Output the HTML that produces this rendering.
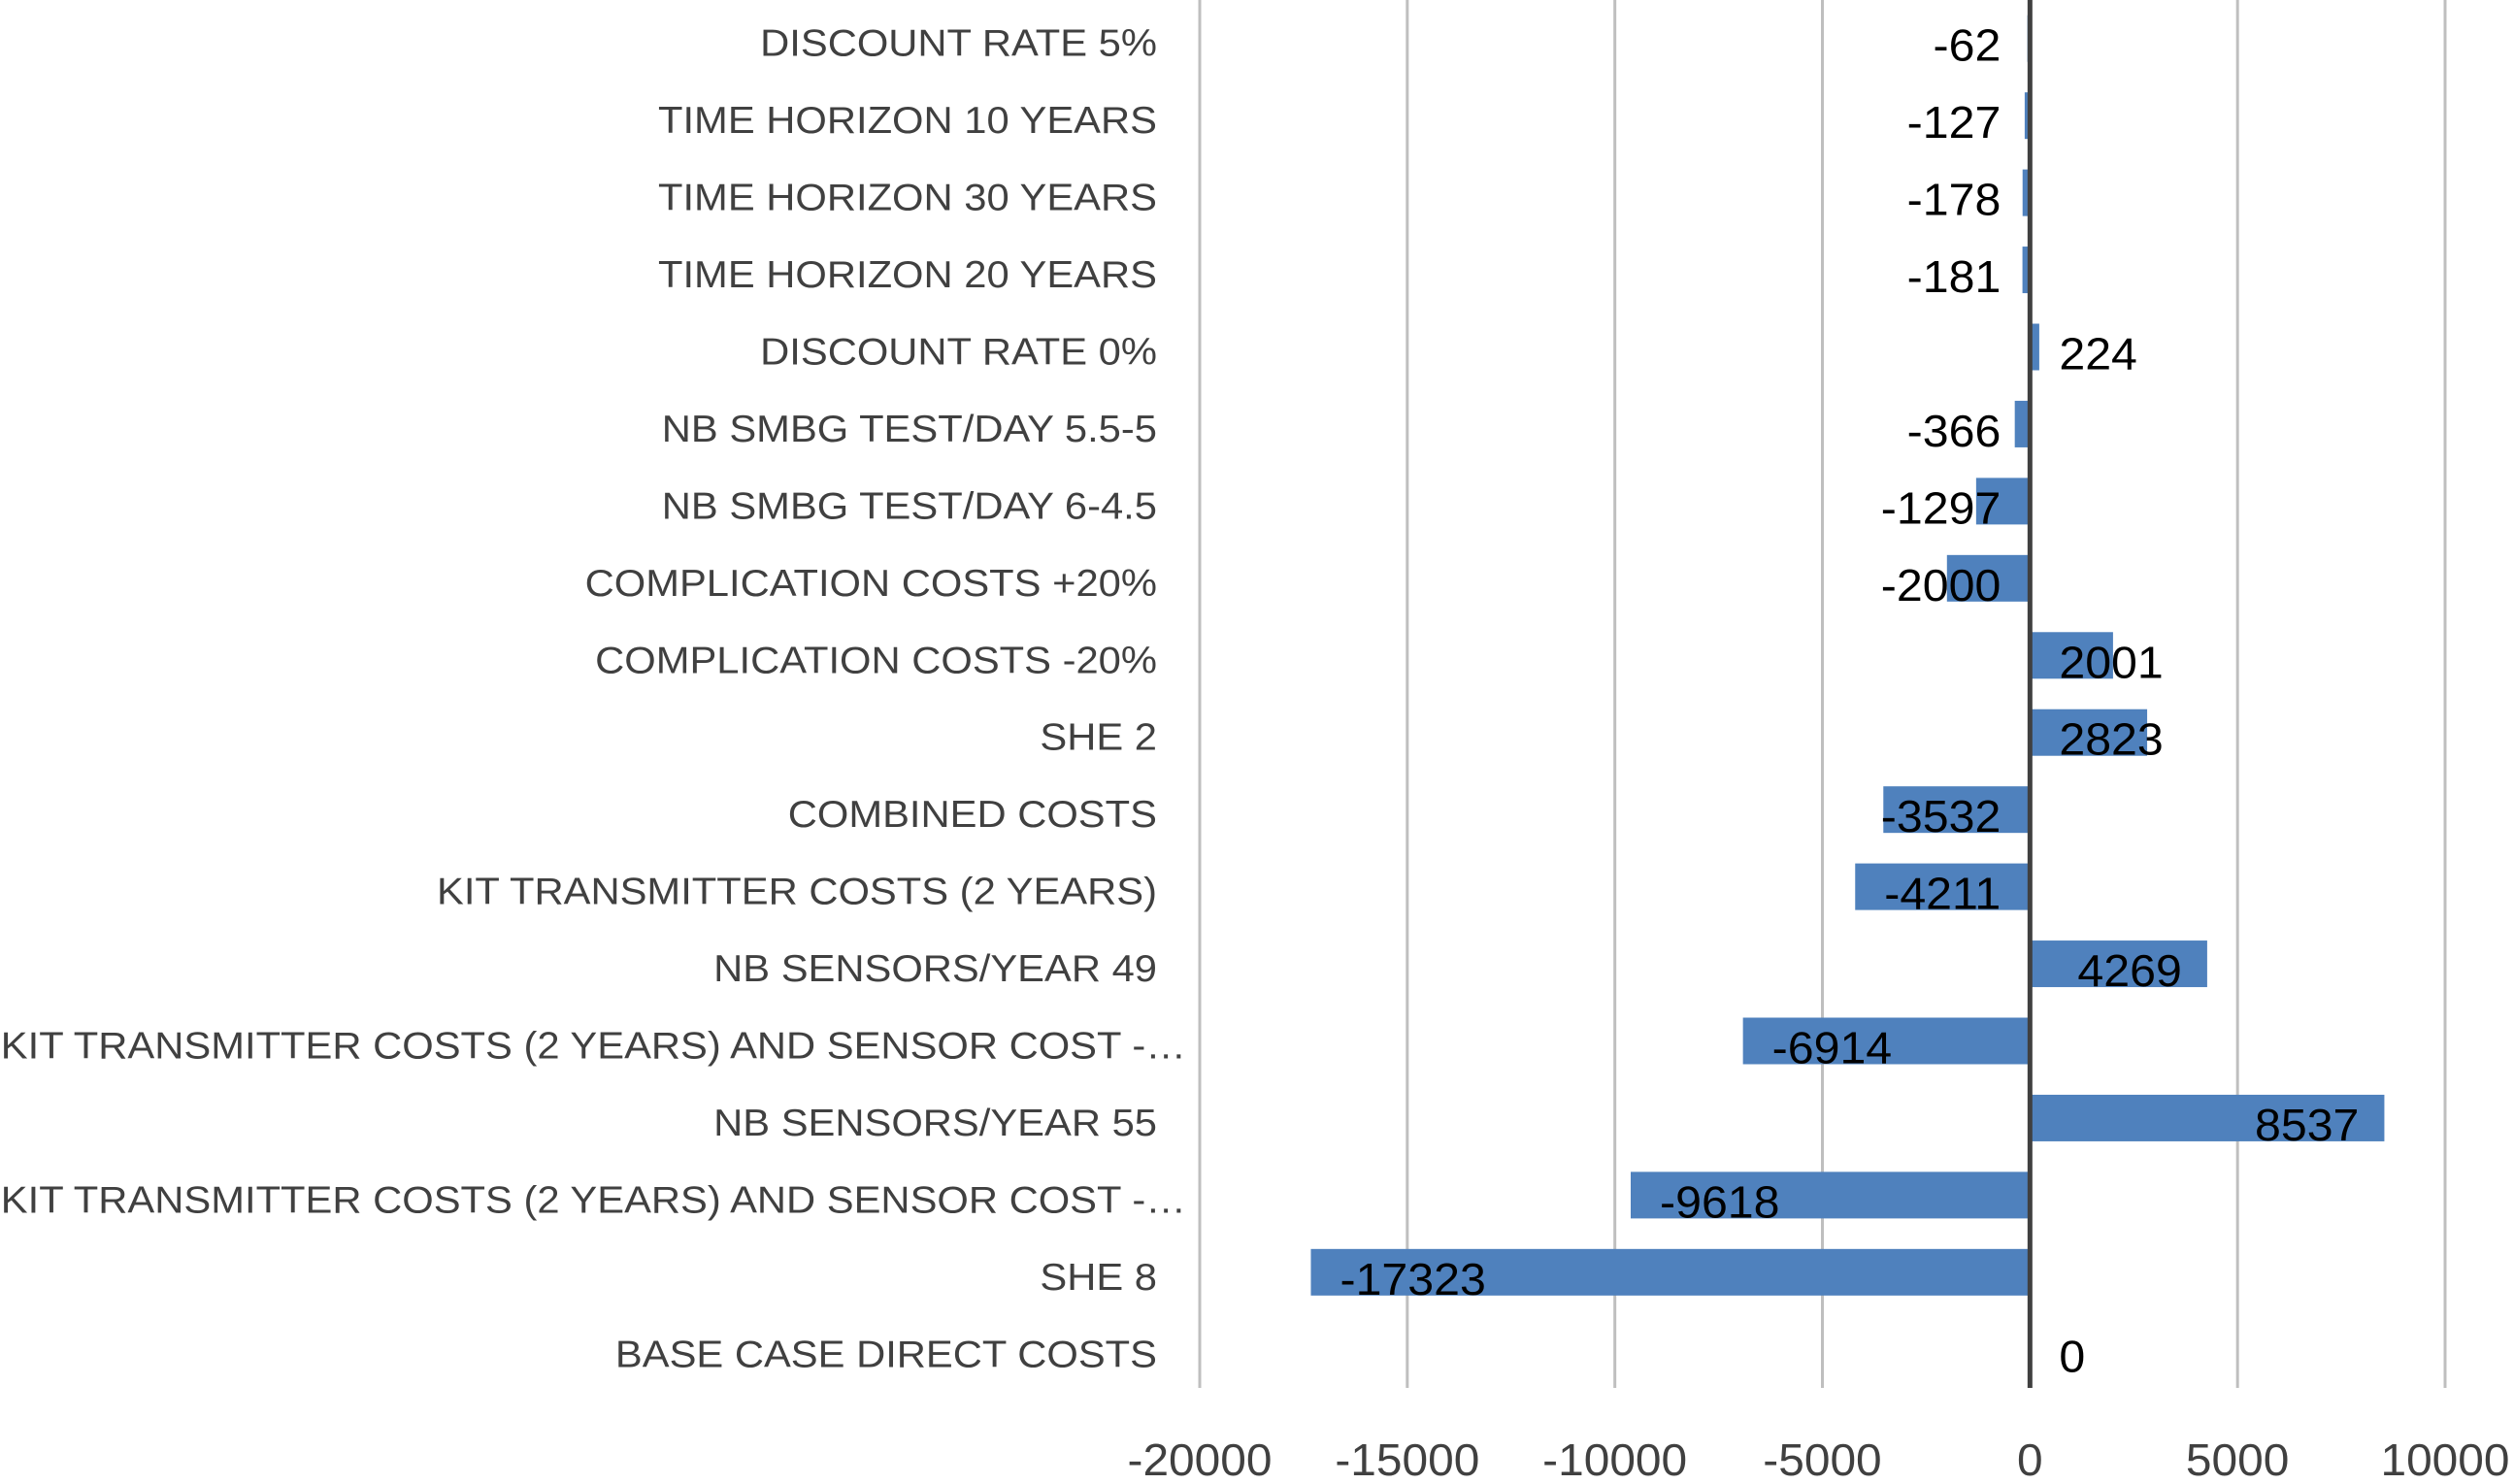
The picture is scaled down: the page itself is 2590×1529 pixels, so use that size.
<!DOCTYPE html>
<html><head><meta charset="utf-8"><style>
html,body{margin:0;padding:0;background:#fff;}
svg{display:block;font-family:"Liberation Sans",sans-serif;}
</style></head><body>
<svg id="chart" width="2590" height="1529" viewBox="0 0 2590 1529" xmlns="http://www.w3.org/2000/svg">
<g id="grid"></g>
<g id="bars"></g>
<g id="axis"></g>
<g id="vals"></g>
<g id="cats"></g>
<g id="ticks"></g>
</svg>
<script>
const categories = ["DISCOUNT RATE 5%","TIME HORIZON 10 YEARS","TIME HORIZON 30 YEARS","TIME HORIZON 20 YEARS","DISCOUNT RATE 0%","NB SMBG TEST/DAY 5.5-5","NB SMBG TEST/DAY 6-4.5","COMPLICATION COSTS +20%","COMPLICATION COSTS -20%","SHE 2","COMBINED COSTS","KIT TRANSMITTER COSTS (2 YEARS)","NB SENSORS/YEAR 49","KIT TRANSMITTER COSTS (2 YEARS) AND SENSOR COST -…","NB SENSORS/YEAR 55","KIT TRANSMITTER COSTS (2 YEARS) AND SENSOR COST -…","SHE 8","BASE CASE DIRECT COSTS"];
const values = [-62,-127,-178,-181,224,-366,-1297,-2000,2001,2823,-3532,-4211,4269,-6914,8537,-9618,-17323,0];
const tickValues = [-20000,-15000,-10000,-5000,0,5000,10000];

const NS="http://www.w3.org/2000/svg";
const xMin=-20000,xMax=10000,pxMin=1236,pxMax=2519;
const plotTop=0,plotBottom=1430;
function x(v){return pxMin+(v-xMin)/(xMax-xMin)*(pxMax-pxMin);}
const band=(plotBottom-plotTop)/categories.length;
function yc(i){return plotTop+(i+0.5)*band;}
function mk(tag,attrs,parent){const e=document.createElementNS(NS,tag);for(const k in attrs)e.setAttribute(k,attrs[k]);parent.appendChild(e);return e;}
const G=id=>document.getElementById(id);

tickValues.forEach(t=>{
  if(t!==0){const l=mk('line',{x1:x(t),x2:x(t),y1:plotTop,y2:plotBottom,stroke:'#bfbfbf','stroke-width':3},G('grid'));
  
  }
  const tx=mk('text',{x:x(t),y:1520,'text-anchor':'middle','font-size':46,fill:'#404040'},G('ticks'));
  tx.textContent=t;
  
  
  const w=tx.getComputedTextLength();tx.setAttribute('textLength',w*1.04);tx.setAttribute('lengthAdjust','spacingAndGlyphs');
});

const bh=48;
values.forEach((v,i)=>{
  const x0=x(0),x1=x(v);
  const r=mk('rect',{x:Math.min(x0,x1),y:yc(i)-bh/2,width:Math.abs(x1-x0),height:bh,fill:'#4f81bd'},G('bars'));
  
  
  const t=mk('text',{y:yc(i)+23,'font-size':46,fill:'#000'},G('vals'));
  t.textContent=v;
  
  
  const w=t.getComputedTextLength()*1.05;
  t.setAttribute('textLength',w);t.setAttribute('lengthAdjust','spacingAndGlyphs');
  let lx;
  if(v<0){lx=Math.min(x1+30,x0-30-w);}else{lx=Math.max(x0+30,x1-26-w);}
  t.setAttribute('x',lx);
  const c=mk('text',{y:yc(i)+18,'font-size':39,fill:'#404040','text-anchor':'end'},G('cats'));
  c.textContent=categories[i];
  
  
  const cw=c.getComputedTextLength()*1.07;
  c.setAttribute('textLength',cw);c.setAttribute('lengthAdjust','spacingAndGlyphs');
  c.setAttribute('x',categories[i].endsWith('…')?1222:1192);
});
const ax=mk('line',{x1:x(0),x2:x(0),y1:plotTop,y2:plotBottom,stroke:'#404040','stroke-width':5},G('axis'));


</script>
</body></html>
